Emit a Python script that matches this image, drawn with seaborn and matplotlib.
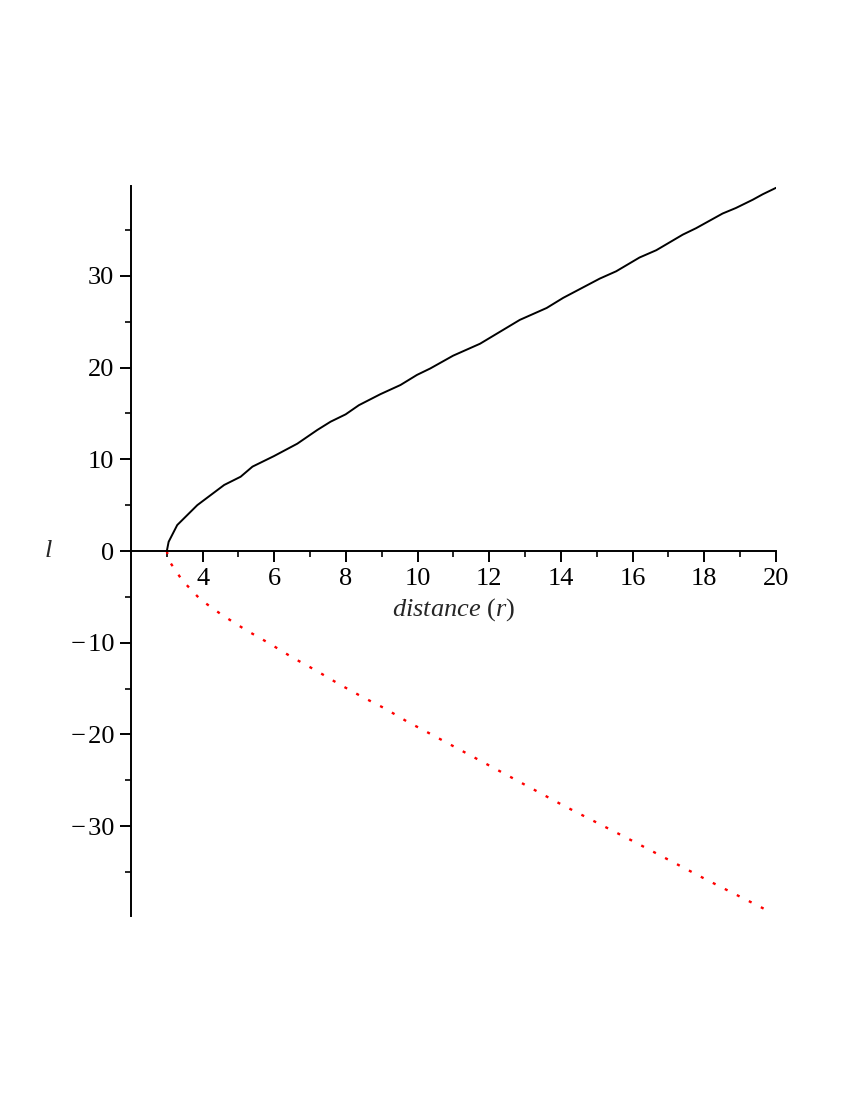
import pandas as pd
import matplotlib
matplotlib.use("Agg")
import matplotlib.pyplot as plt
import seaborn as sns

# values
r_upper = [3.0, 3.05, 3.29, 3.85, 4.60, 5.06, 5.39, 5.99, 6.64, 7.20, 7.57, 7.99,
           8.36, 8.96, 9.52, 9.98, 10.35, 10.99, 11.74, 12.85, 13.60, 14.06,
           15.08, 15.54, 16.19, 16.66, 17.40, 17.77, 18.51, 18.88, 19.35, 19.63, 20.0]
l_upper = [0.0, 1.0, 2.83, 5.0, 7.2, 8.1, 9.2, 10.35, 11.7, 13.2, 14.1, 14.9,
           15.9, 17.1, 18.1, 19.2, 19.9, 21.3, 22.6, 25.2, 26.5, 27.6,
           29.7, 30.5, 32.0, 32.8, 34.5, 35.2, 36.8, 37.4, 38.3, 38.9, 39.6]

r_lower = [3.0, 3.05, 3.43, 3.94, 4.55, 5.20, 5.85, 6.50, 7.15, 7.80, 8.45,
           9.10, 9.75, 10.05, 12.05, 14.04, 16.04, 18.04, 19.71]
l_lower = [0.0, -1.0, -3.2, -5.3, -7.0, -8.6, -10.05, -11.6, -13.0, -14.5, -15.9,
           -17.2, -18.7, -19.3, -23.5, -27.7, -31.7, -35.8, -39.1]

x_major = [4, 6, 8, 10, 12, 14, 16, 18, 20]
x_minor = [3, 5, 7, 9, 11, 13, 15, 17, 19]
y_major = [-30, -20, -10, 0, 10, 20, 30]
y_minor = [-35, -25, -15, -5, 5, 15, 25, 35]
y_labels = ["\u2212\u200a30", "\u2212\u200a20", "\u2212\u200a10", "0", "10", "20", "30"]

upper = pd.DataFrame({"r": r_upper, "l": l_upper})
lower = pd.DataFrame({"r": r_lower, "l": l_lower})

sns.set_style("white")
plt.rcParams["font.family"] = ["Liberation Serif", "DejaVu Serif"]
plt.rcParams["mathtext.fontset"] = "custom"
plt.rcParams["mathtext.rm"] = "Liberation Serif"
plt.rcParams["mathtext.it"] = "Liberation Serif:italic"

fig = plt.figure(figsize=(8.5, 11), dpi=100)
ax = fig.add_axes([131 / 850, 1 - 916 / 1100, (776 - 131) / 850, (916 - 186) / 1100])

sns.lineplot(data=upper, x="r", y="l", ax=ax, color="black", lw=1.4,
             sort=False, estimator=None)
sns.lineplot(data=lower, x="r", y="l", ax=ax, color="red", lw=1.7,
             sort=False, estimator=None, linestyle=(0, (1.3, 4.4)))

ax.set_xlim(2, 20)
ax.set_ylim(-39.8, 39.8)

ax.spines["top"].set_visible(False)
ax.spines["right"].set_visible(False)
ax.spines["bottom"].set_position(("data", 0))
for s in ["left", "bottom"]:
    ax.spines[s].set_linewidth(1.4)
    ax.spines[s].set_color("black")

ax.set_xticks(x_major)
ax.set_xticks(x_minor, minor=True)
ax.set_yticks(y_major)
ax.set_yticklabels(y_labels)
ax.set_yticks(y_minor, minor=True)
ax.tick_params(which="major", direction="out", length=8, width=1.4,
               labelsize=19, colors="black", bottom=True, left=True)
ax.tick_params(which="minor", direction="out", length=4, width=1.4,
               bottom=True, left=True)
ax.tick_params(axis="x", pad=4)
ax.tick_params(axis="y", pad=4)

ax.set_xlabel("")
ax.set_ylabel("")
ax.text(11, -6.4, r"$distance\ (r)$", fontsize=19, ha="center", va="center")
fig.text(48 / 850, 1 - 551 / 1100, r"$l$", fontsize=19, ha="center", va="center")

plt.savefig("out.png", dpi=100)
